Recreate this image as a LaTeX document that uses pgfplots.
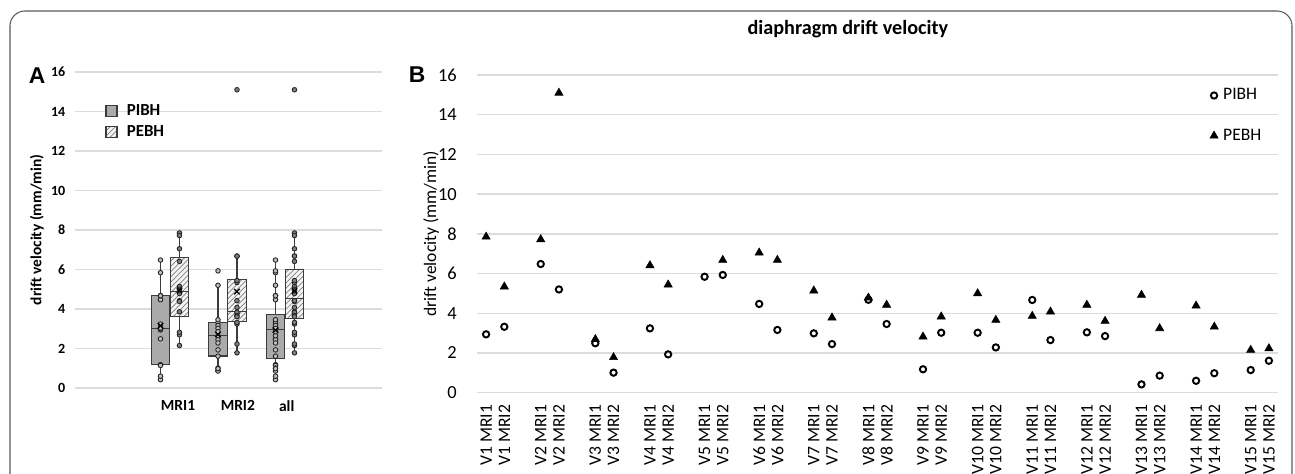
\documentclass[border=0pt]{standalone}
\usepackage{fontspec}
\setmainfont{Carlito}
\newfontfamily\arialf{Liberation Sans}
\usepackage{pgfplots}
\usepackage{pgfplotstable}
\pgfplotsset{compat=1.18}
\usepgfplotslibrary{statistics}
\usetikzlibrary{patterns}

\definecolor{gridgray}{RGB}{220,220,220}
\definecolor{boxdark}{RGB}{170,170,170}
\definecolor{boxlight}{RGB}{244,244,244}
\definecolor{edge}{RGB}{60,60,60}

% drift velocity per volunteer: p = PIBH, e = PEBH, 1/2 = MRI1/MRI2
\pgfplotstableread{
visit p1   e1    p2   e2
1     2.94 7.85  3.32 5.34
2     6.48 7.72  5.20 15.10
3     2.49 2.69  1.01 1.78
4     3.24 6.41  1.93 5.44
5     5.84 nan   5.93 6.68
6     4.47 7.05  3.16 6.68
7     2.99 5.14  2.45 3.78
8     4.68 4.78  3.46 4.42
9     1.18 2.82  3.02 3.83
10    3.02 5.00  2.28 3.66
11    4.67 3.86  2.65 4.08
12    3.04 4.42  2.85 3.61
13    0.42 4.92  0.86 3.24
14    0.60 4.38  0.98 3.32
15    1.14 2.15  1.61 2.23
}\drift

\pgfplotsset{
  ptsI/.style={only marks, mark=*, mark size=1.3pt, mark options={fill=black!25, draw=black!85, line width=0.5pt}, forget plot},
  ptsE/.style={only marks, mark=*, mark size=1.3pt, mark options={fill=black!50, draw=black!85, line width=0.5pt}, forget plot},
  meanx/.style={only marks, mark=x, mark size=2.2pt, mark options={draw=black, line width=0.7pt}, forget plot},
  boxI/.style={fill=boxdark, draw=edge, line width=0.6pt, forget plot},
  boxE/.style={draw=edge, line width=0.6pt, forget plot,
    boxplot/every box/.style={fill=boxlight, postaction={pattern=north east lines, pattern color=black!50}}},
}

\begin{document}
\begin{tikzpicture}
\useasboundingbox (0,0) rectangle (25.9,-9.48);
\draw[black!65, line width=0.6pt, rounded corners=0.3cm] (0.2,-9.6) -- (0.2,-0.22) -- (25.84,-0.22) -- (25.84,-9.6);

\node[font=\arialf\bfseries\fontsize{13}{15}\selectfont] at (0.74,-1.52) {A};
\node[font=\arialf\bfseries\fontsize{13}{15}\selectfont] at (8.34,-1.50) {B};

% ---------- panel A: box plots ----------
\begin{axis}[
  at={(1.5cm,-7.76cm)}, anchor=south west,
  scale only axis, width=6.14cm, height=6.32cm,
  xmin=-0.652, xmax=4.687, ymin=0, ymax=16,
  axis lines=left, axis line style={draw=none},
  major tick length=0pt,
  boxplot/draw direction=y,
  ytick={0,2,...,16},
  ymajorgrids, grid style={gridgray, line width=0.8pt},
  xtick={1.14,2.18,3.03}, xticklabels={MRI1,MRI2,all},
  /pgf/number format/assume math mode=true,
  yticklabel style={font=\bfseries\fontsize{8}{9}\selectfont},
  xticklabel style={font=\bfseries\fontsize{8.8}{10}\selectfont},
  xticklabel shift=0.12cm, yticklabel shift=0.07cm,
  ylabel={drift velocity (mm/min)},
  every axis y label/.style={at={(rel axis cs:-0.124,0.5)}, rotate=90, anchor=center,
    font=\bfseries\fontsize{8.8}{10}\selectfont},
  legend style={at={(rel axis cs:0.081,0.915)}, anchor=north west, draw=none, fill=none,
    font=\bfseries\fontsize{9.6}{11}\selectfont, row sep=2pt, nodes={inner sep=1pt}},
  legend cell align=left,
  legend image code/.code={\draw[#1] (0cm,-0.11cm) rectangle (0.22cm,0.11cm); \path (0.37cm,0cm);},
  clip=false,
]
\addlegendimage{fill=boxdark, draw=edge, line width=0.6pt}
\addlegendentry{PIBH}
\addlegendimage{fill=boxlight, draw=edge, line width=0.6pt, postaction={pattern=north east lines, pattern color=black!50}}
\addlegendentry{PEBH}

\addplot[boxI, boxplot prepared={draw position=0.835, lower whisker=0.42, lower quartile=1.18,
  median=3.02, upper quartile=4.70, upper whisker=6.48, box extend=0.32, whisker extend=0.1}] coordinates {};
\addplot[boxE, boxplot prepared={draw position=1.165, lower whisker=2.15, lower quartile=3.62,
  median=4.88, upper quartile=6.60, upper whisker=7.85, box extend=0.32, whisker extend=0.1}] coordinates {};
\addplot[boxI, boxplot prepared={draw position=1.835, lower whisker=0.86, lower quartile=1.62,
  median=2.67, upper quartile=3.33, upper whisker=5.20, box extend=0.32, whisker extend=0.1}] coordinates {};
\addplot[boxE, boxplot prepared={draw position=2.165, lower whisker=1.78, lower quartile=3.35,
  median=3.85, upper quartile=5.50, upper whisker=6.68, box extend=0.32, whisker extend=0.1}] coordinates {};
\addplot[boxI, boxplot prepared={draw position=2.835, lower whisker=0.42, lower quartile=1.51,
  median=2.97, upper quartile=3.73, upper whisker=6.48, box extend=0.32, whisker extend=0.1}] coordinates {};
\addplot[boxE, boxplot prepared={draw position=3.165, lower whisker=1.78, lower quartile=3.54,
  median=4.51, upper quartile=5.98, upper whisker=7.85, box extend=0.32, whisker extend=0.1}] coordinates {};

% individual values
\addplot[ptsI] table[x expr=0.835, y=p1] {\drift};
\addplot[ptsE] table[x expr=1.165, y=e1] {\drift};
\addplot[ptsI] table[x expr=1.835, y=p2] {\drift};
\addplot[ptsE] table[x expr=2.165, y=e2] {\drift};
\addplot[ptsI] table[x expr=2.835, y=p1] {\drift};
\addplot[ptsI] table[x expr=2.835, y=p2] {\drift};
\addplot[ptsE] table[x expr=3.165, y=e1] {\drift};
\addplot[ptsE] table[x expr=3.165, y=e2] {\drift};

% means
\addplot[meanx] coordinates {(0.835,3.15) (1.165,4.94) (1.835,2.71) (2.165,4.88) (2.835,2.93) (3.165,4.91)};
\end{axis}

% ---------- panel B: per volunteer ----------
\begin{axis}[
  at={(9.54cm,-7.854cm)}, anchor=south west,
  scale only axis, width=16.02cm, height=6.354cm,
  xmin=-0.5, xmax=43.5, ymin=0, ymax=16,
  axis lines=left, axis line style={draw=none},
  major tick length=0pt,
  ytick={0,2,...,16},
  ymajorgrids, grid style={gridgray, line width=0.8pt},
  xtick={0,1,3,4,6,7,9,10,12,13,15,16,18,19,21,22,24,25,27,28,30,31,33,34,36,37,39,40,42,43},
  xticklabels={V1 MRI1,V1 MRI2,V2 MRI1,V2 MRI2,V3 MRI1,V3 MRI2,V4 MRI1,V4 MRI2,V5 MRI1,V5 MRI2,
    V6 MRI1,V6 MRI2,V7 MRI1,V7 MRI2,V8 MRI1,V8 MRI2,V9 MRI1,V9 MRI2,V10 MRI1,V10 MRI2,
    V11 MRI1,V11 MRI2,V12 MRI1,V12 MRI2,V13 MRI1,V13 MRI2,V14 MRI1,V14 MRI2,V15 MRI1,V15 MRI2},
  /pgf/number format/assume math mode=true,
  xticklabel style={rotate=90, anchor=east, font=\fontsize{10}{12}\selectfont},
  yticklabel style={font=\fontsize{10.5}{12}\selectfont},
  xticklabel shift=0.12cm, yticklabel shift=0.28cm,
  ylabel={drift velocity (mm/min)},
  every axis y label/.style={at={(rel axis cs:-0.0574,0.5)}, rotate=90, anchor=center,
    font=\fontsize{10}{12}\selectfont},
  title={diaphragm drift velocity},
  title style={at={(rel axis cs:0.463,1.11)}, anchor=center, font=\bfseries\fontsize{11.5}{13}\selectfont},
  legend style={at={(rel axis cs:0.908,0.975)}, anchor=north west, draw=none, fill=none,
    font=\fontsize{10}{12}\selectfont, row sep=13pt, nodes={inner sep=1pt}},
  legend cell align=left,
  legend image code/.code={\draw[#1] plot coordinates {(0.1cm,0cm)}; \path (0.24cm,0cm);},
  clip=false,
]
\addplot[only marks, mark=o, mark size=1.8pt, mark options={draw=black, line width=1.1pt}]
  table[x expr=3*\thisrow{visit}-3, y=p1] {\drift};
\addlegendentry{PIBH}
\addplot[only marks, mark=triangle*, mark size=2.7pt, mark options={fill=black, draw=black, line width=0.3pt}]
  table[x expr=3*\thisrow{visit}-3, y=e1] {\drift};
\addlegendentry{PEBH}
\addplot[only marks, mark=o, mark size=1.8pt, mark options={draw=black, line width=1.1pt}, forget plot]
  table[x expr=3*\thisrow{visit}-2, y=p2] {\drift};
\addplot[only marks, mark=triangle*, mark size=2.7pt, mark options={fill=black, draw=black, line width=0.3pt}, forget plot]
  table[x expr=3*\thisrow{visit}-2, y=e2] {\drift};
\end{axis}
\end{tikzpicture}
\end{document}
